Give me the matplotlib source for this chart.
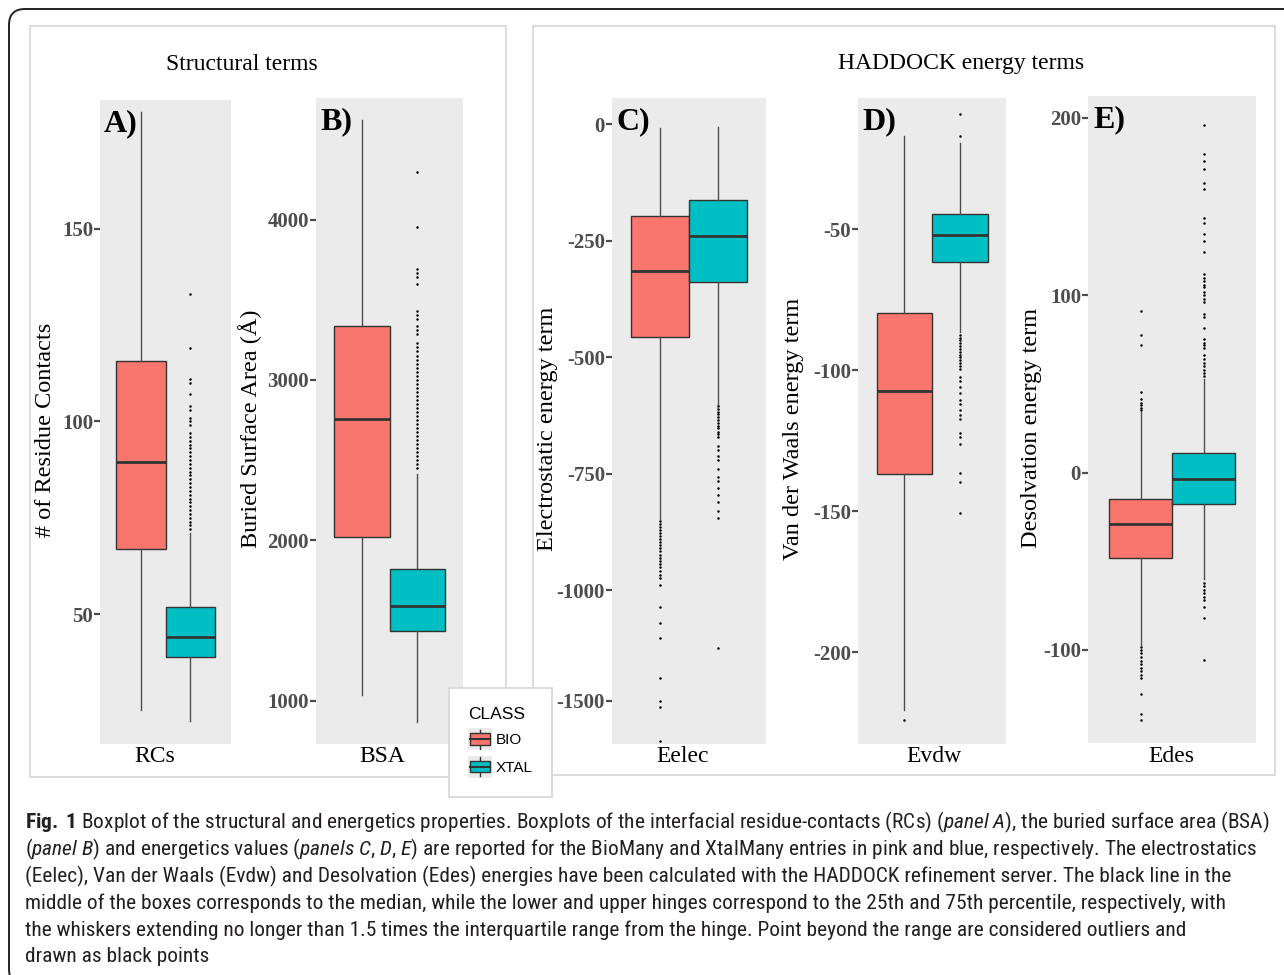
import numpy as np
import matplotlib
matplotlib.use('Agg')
import matplotlib.pyplot as plt
from matplotlib.patches import Rectangle, FancyBboxPatch
from matplotlib.lines import Line2D
from matplotlib.legend_handler import HandlerBase
from matplotlib import font_manager

plt.rcParams['axes.unicode_minus'] = False

# ---- data ----
classes = ['BIO', 'XTAL']
terms = ['RCs', 'BSA', 'Eelec', 'Evdw', 'Edes']
letters = ['A)', 'B)', 'C)', 'D)', 'E)']
ylabels = ['# of Residue Contacts', 'Buried Surface Area (Å)', 'Electrostatic energy term',
           'Van der Waals energy term', 'Desolvation energy term']

# (whisker low, q1, median, q3, whisker high)
rcs_bio = [25.1, 66.8, 89.6, 115.8, 180.3]
rcs_xtal = [22.3, 38.9, 44.0, 51.8, 71.0]
rcs_bio_out = []
rcs_xtal_out = [133, 119, 111, 110, 107, 104, 103, 101, 100, 99, 97, 96, 95, 94, 93, 92, 91,
                90, 89, 88, 87, 86, 85, 84, 83, 82, 81, 80, 79, 78, 77, 76, 75, 74, 73, 72]

bsa_bio = [1035, 2021, 2757, 3337, 4622]
bsa_xtal = [867, 1434, 1590, 1821, 2414]
bsa_bio_out = []
bsa_xtal_out = [4298, 3954, 3692, 3667, 3643, 3599, 3430, 3405, 3380, 3337, 3312, 3287, 3231,
                3205, 3180, 3150, 3125, 3100, 3075, 3050, 3025, 3000, 2975, 2950, 2925, 2900,
                2875, 2850, 2825, 2800, 2775, 2750, 2725, 2700, 2675, 2650, 2625, 2600, 2575,
                2550, 2525, 2500, 2475, 2450]

eelec_bio = [-848, -457, -315, -197, -9]
eelec_xtal = [-603, -339, -240, -164, -6]
eelec_bio_out = [-852, -858, -865, -871, -878, -884, -890, -897, -903, -910, -917, -924, -931,
                 -938, -944, -951, -959, -968, -975, -989, -1077, -1149, -1216, -1396, -1500,
                 -1527, -1680]
eelec_xtal_out = [-605, -611, -617, -623, -629, -635, -641, -647, -653, -660, -666, -672, -691,
                  -700, -712, -722, -740, -758, -766, -781, -795, -812, -830, -845, -1261]

evdw_bio = [-220.5, -136.9, -107.4, -79.8, -17]
evdw_xtal = [-86.5, -61.6, -52.1, -44.7, -19.3]
evdw_bio_out = [-224]
evdw_xtal_out = [-9, -17, -87.5, -88.5, -89.5, -90.5, -91.5, -92.5, -93.5, -94.5, -95.5, -96.5,
                 -97.5, -98.5, -99.5, -102.5, -104, -106, -108, -110.5, -112, -114, -116,
                 -117.5, -122.3, -123.8, -126.2, -136.5, -139.7, -150.7]

edes_bio = [-97, -47.9, -29.0, -14.7, 34]
edes_xtal = [-60, -17.7, -3.4, 11.2, 53]
edes_bio_out = [91, 77.4, 71.9, 45.2, 41.4, 39.5, 38, 36.5, 35.5, -98.5, -100, -102, -104, -106,
                -108, -110, -112, -114, -116, -124.7, -136, -139.8]
edes_xtal_out = [196.2, 179.9, 176, 171, 163.5, 159.7, 143.4, 141, 134.6, 130.8, 124.5, 112, 110,
                 108, 106, 104.4, 101.8, 100, 98, 96, 89.3, 88, 81.7, 75.4, 73, 72, 70.4, 66.6,
                 64, 62, 60, 58, 56, 54.5, -62, -64, -66, -68, -70, -72, -75.6, -81.9, -105.8]

yticks = [[50, 100, 150], [1000, 2000, 3000, 4000], [0, -250, -500, -750, -1000, -1500],
          [-200, -150, -100, -50], [-100, 0, 100, 200]]

# ---- layout ----
W, H = 1284, 975
colors = ['#F8766D', '#00BFC4']
serif = 'Liberation Serif'

# caption font: a condensed sans if one is installed
capfont, capstretch = 'Liberation Sans', 'normal'
ttf = font_manager.fontManager.ttflist
for want in ['Liberation Sans Narrow', 'Roboto Condensed', 'Open Sans Condensed',
             'Noto Sans Condensed', 'DejaVu Sans']:
    hit = [f for f in ttf if f.name == want and
           (want != 'DejaVu Sans' or f.stretch in ('condensed', 'semi-condensed'))]
    if hit:
        capfont, capstretch = want, hit[0].stretch
        break
suffix = '' if capstretch == 'normal' else ':stretch=' + capstretch
plt.rcParams['mathtext.fontset'] = 'custom'
plt.rcParams['mathtext.rm'] = capfont + suffix
plt.rcParams['mathtext.it'] = capfont + ':italic' + suffix
plt.rcParams['mathtext.bf'] = capfont + ':bold' + suffix


def rect(x0, y0, x1, y1):
    return [x0 / W, 1 - y1 / H, (x1 - x0) / W, (y1 - y0) / H]


# axes boxes in pixels (left, top, right, bottom) and y ranges
ax_px = [(100, 100, 231, 744), (316, 98, 463, 744), (612, 98, 766, 744),
         (858, 98, 1006, 744), (1088, 96, 1256, 743)]
ylims = [(16.3, 183.4), (729, 4759), (-1694, 55.8), (-232.6, -3.5), (-152.5, 212.4)]

stats = [(rcs_bio, rcs_xtal, rcs_bio_out, rcs_xtal_out),
         (bsa_bio, bsa_xtal, bsa_bio_out, bsa_xtal_out),
         (eelec_bio, eelec_xtal, eelec_bio_out, eelec_xtal_out),
         (evdw_bio, evdw_xtal, evdw_bio_out, evdw_xtal_out),
         (edes_bio, edes_xtal, edes_bio_out, edes_xtal_out)]


def to_stats(five, out, label):
    return dict(whislo=five[0], q1=five[1], med=five[2], q3=five[3], whishi=five[4],
                fliers=out, label=label)


# piecewise scale for Eelec (axis compressed below -1000 in the original)
def fwd(v):
    v = np.asarray(v, dtype=float)
    return np.where(v >= -1000, v, -1000 + (v + 1000) * 0.476)


def inv(u):
    u = np.asarray(u, dtype=float)
    return np.where(u >= -1000, u, -1000 + (u + 1000) / 0.476)


fig = plt.figure(figsize=(W / 100, H / 100), dpi=100)

# outer rounded frame and the two group panels
fig.patches.append(FancyBboxPatch((0.09, -0.1), 13.0, 9.76, boxstyle='round,pad=0,rounding_size=0.16',
                                  transform=fig.dpi_scale_trans, fc='none', ec='#222222', lw=1.4))
for r in [rect(30, 26, 506, 777), rect(533, 26, 1275, 775)]:
    fig.patches.append(Rectangle((r[0], r[1]), r[2], r[3], transform=fig.transFigure,
                                 fc='none', ec='#d6d6d6', lw=1.2))

fig.text(242 / W, 1 - 64 / H, 'Structural terms', family=serif, fontsize=17,
         ha='center', va='center')
fig.text(961 / W, 1 - 64 / H, 'HADDOCK energy terms', family=serif, fontsize=17,
         ha='center', va='center')

ylab_x = [46, 250, 548, 793, 1032]
xlab_x = [155, 382, 683, 934, 1171]

for i in range(5):
    l, t, r, b = ax_px[i]
    ax = fig.add_axes(rect(l, t, r, b))
    ax.set_facecolor('#ebebeb')
    for s in ax.spines.values():
        s.set_visible(False)
    if i == 2:
        ax.set_yscale('function', functions=(fwd, inv))
    bio, xtal, bio_out, xtal_out = stats[i]
    bp = ax.bxp([to_stats(bio, bio_out, 'BIO'), to_stats(xtal, xtal_out, 'XTAL')],
                positions=[0.775, 1.225], widths=0.45, patch_artist=True, showcaps=False,
                boxprops=dict(edgecolor='#333333', linewidth=1.0),
                whiskerprops=dict(color='#4d4d4d', linewidth=1.0),
                medianprops=dict(color='#333333', linewidth=2.0),
                flierprops=dict(marker='o', markersize=1.8, markerfacecolor='black',
                                markeredgewidth=0, linestyle='none'))
    for p, c in zip(bp['boxes'], colors):
        p.set_facecolor(c)
    ax.set_xlim(0.4, 1.6)
    ax.set_ylim(*ylims[i])
    ax.set_xticks([])
    ax.set_yticks(yticks[i])
    ax.set_yticklabels([str(v) for v in yticks[i]], family=serif, fontweight='bold',
                       fontsize=15, color='#4d4d4d')
    ax.yaxis.set_minor_locator(matplotlib.ticker.NullLocator())
    ax.tick_params(axis='y', length=4, width=1.6, color='#4d4d4d', pad=1)
    ax.grid(False)
    ax.text(0.03, 0.985, letters[i], transform=ax.transAxes, family=serif, fontweight='bold',
            fontsize=23, ha='left', va='top')
    fig.text(xlab_x[i] / W, 1 - (b + 13) / H, terms[i], family=serif, fontsize=17,
             ha='center', va='center')
    fig.text(ylab_x[i] / W, 1 - ((t + b) / 2 + 8) / H, ylabels[i], family=serif, fontsize=17.5,
             rotation=90, ha='center', va='center')


# legend with a boxplot glyph as key
class BoxKey(HandlerBase):
    def create_artists(self, legend, orig_handle, xdescent, ydescent, width, height,
                       fontsize, trans):
        x0, y0 = -xdescent, -ydescent
        bg = Rectangle((x0, y0), width, height, fc='#ebebeb', ec='none', transform=trans)
        bx = Rectangle((x0 + 0.08 * width, y0 + 0.24 * height), 0.84 * width, 0.52 * height,
                       fc=orig_handle.get_facecolor(), ec='#333333', lw=1.0, transform=trans)
        med = Line2D([x0 + 0.08 * width, x0 + 0.92 * width], [y0 + 0.5 * height] * 2,
                     color='#333333', lw=1.5, transform=trans)
        w1 = Line2D([x0 + 0.5 * width] * 2, [y0 + 0.06 * height, y0 + 0.24 * height],
                    color='#333333', lw=1.0, transform=trans)
        w2 = Line2D([x0 + 0.5 * width] * 2, [y0 + 0.76 * height, y0 + 0.94 * height],
                    color='#333333', lw=1.0, transform=trans)
        return [bg, w1, w2, bx, med]


handles = [Rectangle((0, 0), 1, 1, fc=c) for c in colors]
leg = fig.legend(handles, classes, handler_map={Rectangle: BoxKey(xpad=0.0, ypad=0.0)},
                 title='CLASS', loc='upper left', bbox_to_anchor=(449 / W, 1 - 688 / H),
                 borderaxespad=0, prop=dict(family='Liberation Sans', size=11), fancybox=False,
                 edgecolor='#d6d6d6', framealpha=1, handlelength=1.55, handleheight=1.8,
                 labelspacing=0.4, handletextpad=0.25, borderpad=1.25, alignment='left')
leg.get_title().set_fontfamily('Liberation Sans')
leg.get_title().set_fontsize(12.5)
leg.get_frame().set_linewidth(1.2)

# caption
caption = [
    r'$\mathbf{Fig.}$ $\mathbf{1}$ Boxplot of the structural and energetics properties. Boxplots of the interfacial residue-contacts (RCs) ($\mathit{panel}$ $\mathit{A}$), the buried surface area (BSA)',
    r'($\mathit{panel}$ $\mathit{B}$) and energetics values ($\mathit{panels}$ $\mathit{C{,}}$ $\mathit{D{,}}$ $\mathit{E}$) are reported for the BioMany and XtalMany entries in pink and blue, respectively. The electrostatics',
    '(Eelec), Van der Waals (Evdw) and Desolvation (Edes) energies have been calculated with the HADDOCK refinement server. The black line in the',
    'middle of the boxes corresponds to the median, while the lower and upper hinges correspond to the 25th and 75th percentile, respectively, with',
    'the whiskers extending no longer than 1.5 times the interquartile range from the hinge. Point beyond the range are considered outliers and',
    'drawn as black points',
]
cap_texts = []
for k, line in enumerate(caption):
    cap_texts.append(fig.text(25 / W, 1 - (822 + 27 * k) / H, line, family=capfont,
                              stretch=capstretch, fontsize=14, color='#231f20',
                              ha='left', va='center'))

# shrink the caption so the first line spans the same width as in the original
fig.canvas.draw()
wfirst = cap_texts[0].get_window_extent().width
size = 14 * 1251 / wfirst
for tx in cap_texts:
    tx.set_fontsize(size)

fig.savefig('out.png', dpi=100)
